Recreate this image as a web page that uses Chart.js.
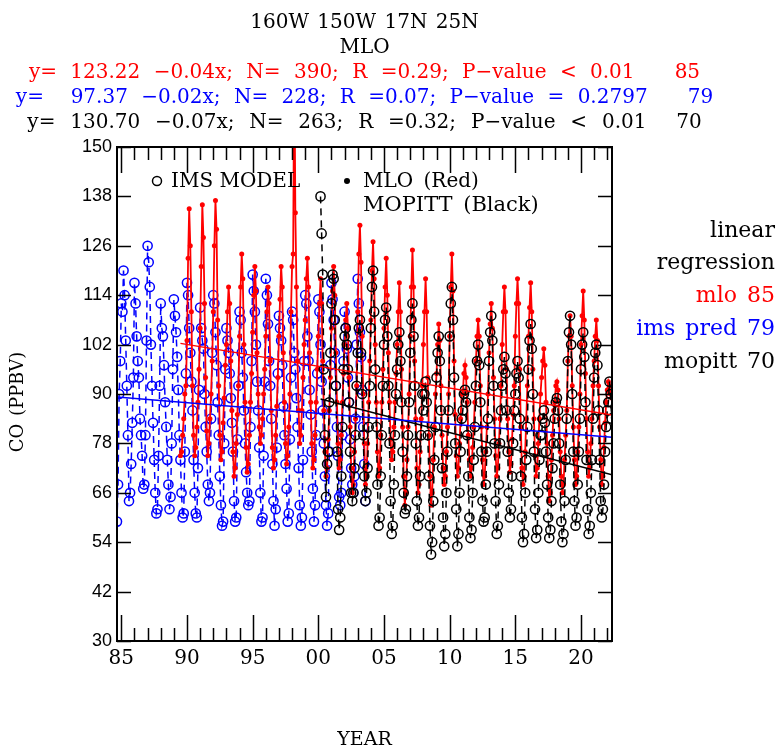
<!DOCTYPE html>
<html>
<head>
<meta charset="utf-8">
<script src="https://cdn.jsdelivr.net/npm/chart.js@4.4.1/dist/chart.umd.min.js"></script>
<style>
  html, body { margin: 0; padding: 0; background: #fff; }
  #wrap { width: 778px; height: 746px; }
</style>
</head>
<body>
<div id="wrap"><canvas id="coChart" width="778" height="746"></canvas></div>
<script>
// axis ranges
const X_MIN = 1984.67;
const X_MAX = 2022.36;
const Y_MIN = 30;
const Y_MAX = 150;
const Y_STEP = 12;
const X_TICKS = [1985, 1990, 1995, 2000, 2005, 2010, 2015, 2020];
const X_TICK_LABELS = ["85", "90", "95", "00", "05", "10", "15", "20"];

// IMS model (blue), monthly, first value = Sep 1984
const imsStart = [1984, 9];
const imsValues = [
  59, 68, 90, 98,
  112, 110, 120, 114, 103, 92, 80, 64, 66, 73, 83, 94,
  117, 112, 104, 98, 94, 84, 80, 75, 67, 68, 80, 103,
  126, 122, 116, 102, 92, 83, 74, 66, 61, 62, 75, 92,
  112, 106, 104, 97, 88, 82, 74, 68, 62, 65, 78, 96,
  113, 109, 105, 99, 91, 80, 74, 66, 60, 61, 76, 95,
  117, 114, 106, 100, 93, 86, 74, 66, 61, 60, 72, 91,
  111, 106, 103, 101, 90, 82, 76, 68, 64, 66, 84, 100,
  114, 112, 105, 97, 88, 80, 70, 63, 58, 59, 78, 96,
  106, 103, 100, 95, 89, 83, 76, 64, 59, 60, 79, 92,
  110, 108, 100, 94, 86, 78, 71, 66, 63, 64, 82, 98,
  119, 115, 110, 102, 93, 86, 77, 66, 59, 60, 75, 93,
  118, 114, 107, 98, 92, 84, 73, 64, 58, 62, 77, 95,
  109, 106, 103, 97, 87, 80, 73, 67, 59, 61, 79, 94,
  110, 108, 100, 96, 89, 82, 72, 63, 58, 60, 74, 98,
  114, 112, 104, 98, 91, 85, 76, 67, 59, 63, 80, 95,
  113, 110, 102, 93, 86, 78, 70, 63, 58, 61, 76, 97,
  117, 113, 108, 100, 92, 82, 75, 65, 63, 66, 80, 98,
  110, 106, 101, 94, 88, 79, 72, 68, 66, 70, 84, 102,
  118, 112, 105, 99, 91, 82, 73, 64
];

// MLO surface CO (red), monthly, first value = Jul 1989
const mloStart = [1989, 7];
const mloValues = [
  75, 76, 80, 84, 90, 92,
  103, 123, 135, 126, 110, 92, 80, 75, 77, 82, 88, 96,
  106, 121, 136, 128, 112, 94, 81, 75, 78, 84, 90, 98,
  110, 126, 137, 130, 108, 92, 80, 74, 76, 83, 89, 97,
  102, 110, 116, 112, 98, 86, 76, 70, 72, 78, 85, 92,
  104, 116, 124, 118, 102, 88, 77, 71, 73, 80, 88, 95,
  105, 114, 121, 115, 100, 90, 82, 78, 80, 84, 90, 96,
  104, 110, 116, 112, 98, 86, 77, 72, 74, 80, 87, 94,
  104, 113, 121, 116, 100, 88, 78, 73, 75, 82, 90, 110,
  121, 124, 175, 134, 116, 98, 86, 78, 80, 86, 94, 102,
  108, 118, 123, 116, 100, 88, 78, 72, 74, 80, 88, 96,
  104, 112, 118, 112, 98, 86, 76, 70, 72, 79, 86, 94,
  106, 115, 121, 114, 100, 88, 78, 72, 74, 80, 88, 95,
  102, 108, 112, 106, 94, 82, 72, 66, 68, 76, 84, 92,
  110, 124, 131, 122, 104, 90, 78, 68, 70, 78, 88, 98,
  108, 120, 127, 118, 102, 88, 76, 70, 72, 80, 88, 96,
  106, 116, 123, 114, 100, 88, 79, 74, 76, 82, 88, 95,
  102, 110, 117, 110, 96, 82, 70, 63, 66, 74, 82, 90,
  104, 116, 125, 116, 98, 84, 72, 66, 68, 76, 84, 92,
  102, 110, 118, 110, 94, 80, 70, 63, 66, 74, 82, 90,
  95, 102, 107, 103, 92, 80, 72, 68, 70, 76, 82, 90,
  104, 116, 124, 115, 98, 85, 75, 70, 72, 78, 84, 90,
  90, 95, 97, 94, 88, 80, 74, 70, 72, 77, 82, 88,
  98, 104, 108, 104, 92, 82, 74, 68, 70, 76, 82, 90,
  100, 107, 112, 106, 94, 84, 75, 70, 72, 78, 84, 92,
  102, 110, 116, 110, 96, 84, 76, 71, 73, 79, 85, 92,
  104, 112, 118, 112, 96, 82, 72, 68, 70, 76, 84, 92,
  104, 111, 117, 110, 96, 84, 75, 70, 72, 78, 84, 90,
  94, 98, 101, 97, 88, 78, 70, 64, 66, 74, 80, 86,
  88, 92, 93, 91, 84, 76, 70, 66, 68, 74, 80, 86,
  98, 104, 109, 104, 92, 82, 74, 68, 70, 76, 82, 90,
  102, 109, 115, 108, 95, 84, 76, 70, 72, 78, 84, 92,
  98, 104, 108, 103, 92, 82, 74, 68, 70, 77, 83, 88,
  91, 93, 92, 90, 89
];

// MOPITT (black), monthly, first value = Mar 2000
const mopittStart = [2000, 3];
const mopittValues = [
  138, 129, 119, 96, 80, 65, 73, 76, 88, 100,
  112, 119, 118, 108, 92, 76, 62, 57, 60, 70, 82, 96,
  104, 106, 102, 96, 88, 76, 66, 64, 66, 72, 80, 92,
  100, 106, 108, 100, 90, 80, 70, 64, 66, 72, 82, 92,
  106, 116, 120, 110, 96, 82, 68, 58, 60, 70, 80, 92,
  102, 108, 111, 104, 92, 78, 64, 56, 58, 68, 80, 90,
  96, 102, 105, 98, 88, 76, 66, 61, 62, 70, 80, 88,
  100, 108, 112, 104, 92, 78, 64, 58, 60, 70, 80, 90,
  86, 90, 93, 88, 80, 70, 58, 51, 54, 64, 74, 82,
  94, 100, 104, 98, 86, 72, 60, 53, 56, 66, 76, 86,
  104, 112, 116, 108, 94, 78, 62, 53, 56, 66, 76, 84,
  86, 90, 91, 88, 80, 70, 60, 55, 57, 66, 74, 82,
  92, 98, 102, 97, 88, 76, 64, 59, 60, 68, 76, 84,
  98, 105, 109, 103, 92, 78, 64, 56, 58, 68, 78, 86,
  92, 96, 99, 95, 86, 76, 66, 60, 62, 70, 78, 86,
  90, 95, 98, 94, 84, 70, 60, 54, 56, 66, 74, 82,
  96, 103, 107, 101, 90, 76, 62, 55, 57, 66, 74, 80,
  80, 84, 86, 83, 76, 68, 60, 55, 57, 64, 72, 78,
  84, 88, 89, 86, 78, 68, 59, 54, 56, 64, 74, 84,
  98, 105, 109, 102, 90, 76, 64, 58, 60, 68, 76, 84,
  96, 102, 105, 99, 88, 74, 62, 56, 58, 66, 74, 84,
  94, 100, 102, 97, 86, 74, 64, 60, 62, 68, 76, 82,
  86, 88, 93, 90, 84
];

// linear regression end points (year, ppbv)
const fitMloX = [1989.5, 2022.36];
const fitMloY = [102.3, 84.9];
const fitImsX = [1984.67, 2022.36];
const fitImsY = [89.3, 79.5];
const fitMopittX = [2000.17, 2022.36];
const fitMopittY = [88.8, 70.4];

const titleLines = [
  "160W 150W 17N 25N",
  "MLO",
  "y= 123.22 \u22120.04x; N= 390; R =0.29; P\u2212value < 0.01   85",
  "y=  97.37 \u22120.02x; N= 228; R =0.07; P\u2212value = 0.2797   79",
  "y= 130.70 \u22120.07x; N= 263; R =0.32; P\u2212value < 0.01  70"
];
const sideLines = ["linear", "regression", "mlo 85", "ims pred 79", "mopitt 70"];

const RED = "#ff0000";
const BLUE = "#0000ff";
const BLACK = "#000000";

function monthly(start, values) {
  return values.map((v, i) => ({ x: start[0] + (start[1] - 1 + i) / 12, y: v }));
}
function pairs(xs, ys) {
  return xs.map((x, i) => ({ x: x, y: ys[i] }));
}

const frameTicks = {
  id: "frameTicks",
  afterDatasetsDraw(chart) {
    const { ctx, chartArea: a, scales: { x, y } } = chart;
    ctx.save();
    ctx.strokeStyle = BLACK;
    ctx.lineWidth = 1.5;
    ctx.beginPath();
    for (let yr = Math.ceil(X_MIN); yr <= X_MAX; yr++) {
      const px = Math.round(x.getPixelForValue(yr)) + 0.5;
      const len = yr % 5 === 0 ? 26 : 13;
      ctx.moveTo(px, a.bottom); ctx.lineTo(px, a.bottom - len);
      ctx.moveTo(px, a.top); ctx.lineTo(px, a.top + len);
    }
    for (let v = Y_MIN; v <= Y_MAX; v += Y_STEP) {
      const py = Math.round(y.getPixelForValue(v)) + 0.5;
      ctx.moveTo(a.left, py); ctx.lineTo(a.left + 14, py);
      ctx.moveTo(a.right, py); ctx.lineTo(a.right - 14, py);
    }
    ctx.stroke();
    ctx.lineWidth = 2;
    ctx.strokeRect(a.left, a.top, a.right - a.left, a.bottom - a.top);
    ctx.restore();
  }
};

const textLayer = {
  id: "textLayer",
  afterDraw(chart) {
    const { ctx, chartArea: a } = chart;
    const cx = (a.left + a.right) / 2;
    ctx.save();
    ctx.textBaseline = "middle";
    ctx.font = "20px 'DejaVu Serif'";
    ctx.textAlign = "center";
    const titleColors = [BLACK, BLACK, RED, BLUE, BLACK];
    const titleGaps = ["2px", "2px", "7px", "7px", "8.5px"];
    titleLines.forEach((t, i) => {
      ctx.fillStyle = titleColors[i];
      ctx.wordSpacing = titleGaps[i];
      ctx.fillText(t, cx, 23 + i * 25);
    });

    ctx.textAlign = "right";
    ctx.font = "22px 'DejaVu Serif'";
    ctx.wordSpacing = "3px";
    const sideColors = [BLACK, BLACK, RED, BLUE, BLACK];
    sideLines.forEach((t, i) => {
      ctx.fillStyle = sideColors[i];
      ctx.fillText(t, 775, 231 + i * 32.7);
    });

    // in-plot key
    ctx.font = "20px 'DejaVu Serif'";
    ctx.textAlign = "left";
    ctx.fillStyle = BLACK;
    ctx.strokeStyle = BLACK;
    ctx.lineWidth = 1.5;
    ctx.beginPath();
    ctx.arc(157, 181, 4.5, 0, Math.PI * 2);
    ctx.stroke();
    ctx.wordSpacing = "0px";
    ctx.fillText("IMS MODEL", 171, 182);
    ctx.beginPath();
    ctx.arc(347, 181, 3, 0, Math.PI * 2);
    ctx.fill();
    ctx.wordSpacing = "4px";
    ctx.fillText("MLO (Red)", 363, 182);
    ctx.font = "21px 'DejaVu Serif'";
    ctx.fillText("MOPITT (Black)", 363, 206);

    // axis titles
    ctx.wordSpacing = "2px";
    ctx.font = "19px 'DejaVu Serif'";
    ctx.textAlign = "center";
    ctx.fillText("YEAR", cx, 740);
    ctx.translate(18, 402);
    ctx.rotate(-Math.PI / 2);
    ctx.font = "18px 'DejaVu Serif'";
    ctx.fillText("CO (PPBV)", 0, 0);
    ctx.restore();
  }
};

const seriesStyle = (color, openCircles) => ({
  borderColor: color,
  borderWidth: openCircles ? 1.5 : 1.8,
  pointRadius: openCircles ? 4.6 : 2.5,
  pointStyle: "circle",
  pointBackgroundColor: openCircles ? "rgba(0,0,0,0)" : color,
  pointBorderColor: color,
  pointBorderWidth: openCircles ? 1.5 : 0,
  borderDash: openCircles ? [7, 5] : [],
  tension: 0,
  clip: 0
});

const fitStyle = color => ({
  borderColor: color,
  borderWidth: 1.5,
  pointRadius: 0,
  clip: 0,
  order: 0
});

new Chart(document.getElementById("coChart"), {
  type: "line",
  data: {
    datasets: [
      Object.assign({ label: "mlo fit", data: pairs(fitMloX, fitMloY) }, fitStyle(RED)),
      Object.assign({ label: "ims fit", data: pairs(fitImsX, fitImsY) }, fitStyle(BLUE)),
      Object.assign({ label: "mopitt fit", data: pairs(fitMopittX, fitMopittY) }, fitStyle(BLACK)),
      Object.assign({ label: "MOPITT", data: monthly(mopittStart, mopittValues), order: 1 }, seriesStyle(BLACK, true)),
      Object.assign({ label: "MLO", data: monthly(mloStart, mloValues), order: 2 }, seriesStyle(RED, false)),
      Object.assign({ label: "IMS MODEL", data: monthly(imsStart, imsValues), order: 3 }, seriesStyle(BLUE, true))
    ]
  },
  options: {
    responsive: false,
    animation: false,
    devicePixelRatio: 1,
    layout: { padding: { top: 147, right: 166, left: 0, bottom: 0 } },
    plugins: { legend: { display: false }, tooltip: { enabled: false } },
    scales: {
      x: {
        type: "linear",
        min: X_MIN,
        max: X_MAX,
        afterBuildTicks: s => { s.ticks = X_TICKS.map(v => ({ value: v })); },
        afterFit: s => { s.height = 105; },
        grid: { display: false, drawTicks: false },
        border: { display: false },
        ticks: {
          autoSkip: false,
          maxRotation: 0,
          padding: 6,
          color: BLACK,
          font: { family: "'DejaVu Serif'", size: 20 },
          callback: v => X_TICK_LABELS[X_TICKS.indexOf(v)]
        }
      },
      y: {
        min: Y_MIN,
        max: Y_MAX,
        afterFit: s => { s.width = 117; },
        grid: { display: false, drawTicks: false },
        border: { display: false },
        ticks: {
          stepSize: Y_STEP,
          padding: 5,
          color: BLACK,
          font: { family: "'Liberation Sans'", size: 18 }
        }
      }
    }
  },
  plugins: [frameTicks, textLayer]
});
</script>
</body>
</html>
